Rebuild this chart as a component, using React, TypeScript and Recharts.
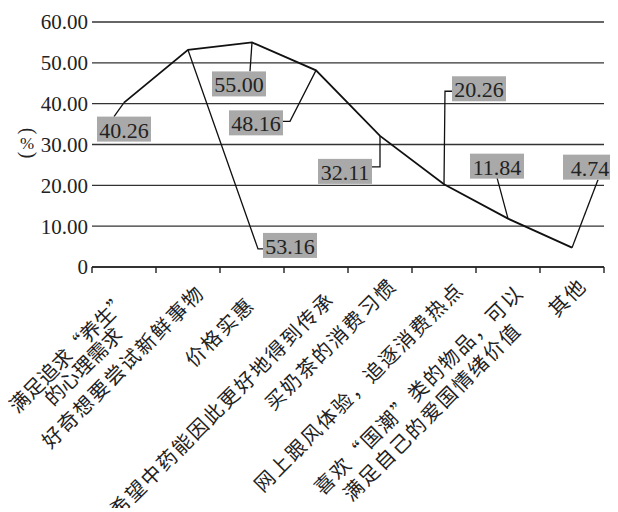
import { LineChart, Line, XAxis, YAxis, CartesianGrid, LabelList, Label } from "recharts";

const CATEGORIES = [
  "满足追求“养生”\n的心理需求",
  "好奇想要尝试新鲜事物",
  "价格实惠",
  "希望中药能因此更好地得到传承",
  "买奶茶的消费习惯",
  "网上跟风体验，追逐消费热点",
  "喜欢“国潮”类的物品，可以\n满足自己的爱国情绪价值",
  "其他",
];
const SHARES = [40.26, 53.16, 55.0, 48.16, 32.11, 20.26, 11.84, 4.74];
const Y_TICKS = [0, 10, 20, 30, 40, 50, 60];

// end of each rotated label's first line, relative to the band centre on the axis;
// second line: shift along the text direction and gap below it
const TICK_NUDGE = [
  [1, 28], [12, 21], [-2, 33], [14, 28], [12, 14], [15, 18], [11, 21], [10, 14],
];
const SECOND_LINE = [
  [-30, 20], null, null, null, null, null, [-28, 25], null,
];
const TICK_SPACING = [0, 2, 2, 2, 2, 2, 2, 2];

// grey value boxes: top-left corner relative to the point, and the leader's bends
const CALLOUTS = [
  { box: [-27, 14], path: [[-10, 14]] },
  { box: [75, 183], path: [[70, 199], [75, 199]] },
  { box: [-40, 29], path: [[-2, 29]] },
  { box: [-87, 40], path: [[-26, 51], [-33, 51]] },
  { box: [-62, 23], path: [[0, 31], [-8, 31]] },
  { box: [8, -108], path: [[1, -93], [8, -93]] },
  { box: [-38, -65], path: [[-11, -41]] },
  { box: [-9, -93], path: [[26, -68]] },
];

const BAND = 64;
const BOX_W = 54;
const BOX_H = 25;
const CJK = "'Noto Sans CJK SC', sans-serif";
const SERIF = "'Liberation Serif', 'Times New Roman', serif";

const data = CATEGORIES.map((name, i) => ({ name, value: SHARES[i] }));

function CategoryTick(props: any) {
  const { x, y, payload, index } = props;
  const lines: string[] = String(payload.value).split("\n");
  const [nx, ny] = TICK_NUDGE[index] ?? [10, 16];
  const ax = x + nx;
  const ay = y + ny;
  const second = SECOND_LINE[index] ?? [0, 25];
  return (
    <g>
      <line x1={x - BAND / 2} y1={y} x2={x - BAND / 2} y2={y + 6} stroke="#222" strokeWidth={1.4} />
      {index === CATEGORIES.length - 1 && (
        <line x1={x + BAND / 2} y1={y} x2={x + BAND / 2} y2={y + 6} stroke="#222" strokeWidth={1.4} />
      )}
      <text
        transform={`rotate(-45 ${ax} ${ay})`}
        fontFamily={CJK}
        fontSize={20}
        letterSpacing={TICK_SPACING[index] ?? 2}
        fill="#222"
        textAnchor="end"
      >
        {lines.map((l, i) => (
          <tspan
            key={i}
            x={i === 0 ? ax : ax + second[0]}
            y={i === 0 ? ay : ay + second[1]}
            dominantBaseline="central"
          >
            {l}
          </tspan>
        ))}
      </text>
    </g>
  );
}

function Callout(props: any) {
  const { x, y, value, index } = props;
  const c = CALLOUTS[index];
  if (!c) return null;
  const pts = [[x, y], ...c.path.map(([dx, dy]) => [x + dx, y + dy])];
  const bx = x + c.box[0];
  const by = y + c.box[1];
  return (
    <g>
      <polyline
        points={pts.map((p) => p.join(",")).join(" ")}
        fill="none"
        stroke="#111"
        strokeWidth={1.3}
      />
      <rect x={bx} y={by} width={BOX_W} height={BOX_H} fill="#a9a9a9" />
      <text
        x={bx + BOX_W / 2}
        y={by + BOX_H / 2 + 1}
        textAnchor="middle"
        dominantBaseline="central"
        fontFamily={SERIF}
        fontSize={22}
        fill="#222"
      >
        {Number(value).toFixed(2)}
      </text>
    </g>
  );
}

// "(%)" set vertically, the brackets turned into arcs
function PercentMark({ cx, cy }: { cx: number; cy: number }) {
  return (
    <g fill="#222" fontFamily={SERIF} transform={`translate(${cx} ${cy})`}>
      <text x={3} y={-12} fontSize={20} textAnchor="middle" dominantBaseline="central"
        transform="rotate(90 3 -12)">(</text>
      <text x={1} y={0} fontSize={17} textAnchor="middle" dominantBaseline="central">%</text>
      <text x={3} y={12} fontSize={20} textAnchor="middle" dominantBaseline="central"
        transform="rotate(90 3 12)">)</text>
    </g>
  );
}

export default function App() {
  return (
    <div style={{ width: 610, height: 500 }}>
      <LineChart
        width={610}
        height={500}
        data={data}
        margin={{ top: 14, right: 14, left: 0, bottom: 0 }}
        style={{ overflow: "visible" }}
      >
        <CartesianGrid vertical={false} stroke="#333" strokeWidth={1.3} />
        <XAxis
          dataKey="name"
          interval={0}
          height={241}
          padding={{ left: BAND / 2, right: BAND / 2 }}
          tickLine={false}
          tickSize={0}
          tickMargin={0}
          axisLine={{ stroke: "#222", strokeWidth: 1.5 }}
          tick={(p: any) => <CategoryTick {...p} />}
        />
        <YAxis
          width={84}
          domain={[0, 60]}
          ticks={Y_TICKS}
          axisLine={false}
          tickLine={false}
          tickSize={2}
          tickMargin={2}
          tickFormatter={(v: number) => (v === 0 ? "0" : v.toFixed(2))}
          tick={{ fill: "#222", fontSize: 21, fontFamily: SERIF }}
        >
          <Label content={() => <PercentMark cx={18} cy={135} />} />
        </YAxis>
        <Line
          type="linear"
          dataKey="value"
          stroke="#111"
          strokeWidth={1.8}
          dot={false}
          isAnimationActive={false}
        >
          <LabelList dataKey="value" content={(p: any) => <Callout {...p} />} />
        </Line>
      </LineChart>
    </div>
  );
}
